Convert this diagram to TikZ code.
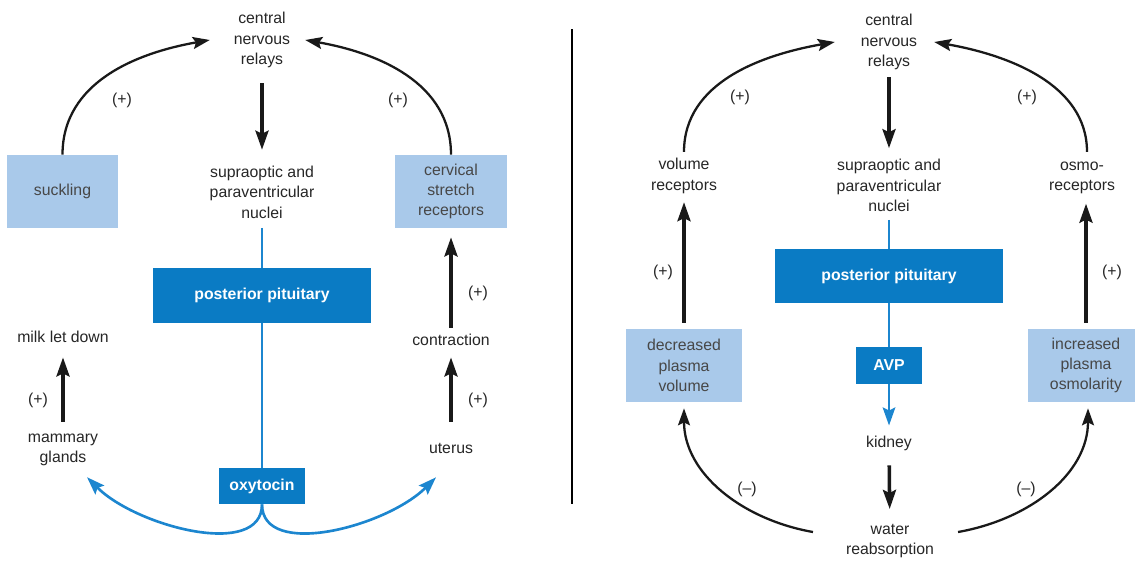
\documentclass[tikz,border=0pt]{standalone}
\usepackage{fontspec}
\setmainfont{Liberation Sans}
\usetikzlibrary{arrows.meta,positioning}
\definecolor{ppblue}{HTML}{0A7BC4}
\definecolor{boxblue}{HTML}{A9C9EA}
\definecolor{lineblue}{HTML}{1C86CF}

\begin{document}
\begin{tikzpicture}[
    x=0.02cm,y=0.02cm,
    font=\fontsize{9}{11.6}\selectfont,
    lbl/.style={align=center,inner sep=1pt,text=black!85},
    sign/.style={inner sep=1pt,text=black!85},
    hormone/.style={rectangle,fill=ppblue,text=white,align=center,
                    inner sep=0pt,font=\fontsize{9}{11.6}\selectfont\bfseries},
    stim/.style={rectangle,fill=boxblue,text=black!72,align=center,
                 inner sep=0pt,minimum height=1.46cm},
    arr/.style={-{Stealth[length=3.4mm,width=2.4mm,inset=0.6mm]},line width=1.3pt,black!90},
    varr/.style={-{Stealth[length=3.8mm,width=2.6mm,inset=0.6mm]},line width=2pt,black!90},
    bline/.style={line width=1.6pt,lineblue},
    barr/.style={-{Stealth[length=3.6mm,width=2.5mm,inset=0.6mm]},line width=1.5pt,lineblue}
  ]
    \useasboundingbox (0,0) rectangle (1135,-561);

    % oxytocin
    \node[lbl] (cnsL) at (262,-40) {central\\nervous\\relays};
    \node[lbl] (sonL) at (262,-192) {supraoptic and\\paraventricular\\nuclei};
    \node[hormone,minimum width=4.38cm,minimum height=1.1cm] (ppL) at (262,-295.5) {posterior pituitary};
    \node[hormone,minimum width=1.72cm,minimum height=0.72cm] (oxyL) at (262,-486) {oxytocin};
    \node[stim,minimum width=2.22cm] (suckL) at (62.5,-191.5) {suckling};
    \node[stim,minimum width=2.24cm] (cervL) at (451,-191.5) {cervical\\stretch\\receptors};
    \node[lbl] (milk) at (63,-337) {milk let down};
    \node[lbl] (mamm) at (63,-450) {mammary\\glands};
    \node[lbl] (contr) at (451,-340) {contraction};
    \node[lbl] (ut) at (451,-448) {uterus};
    \node[sign] (s1) at (122,-100) {(+)};
    \node[sign] (s2) at (398,-100) {(+)};
    \node[sign] (s3) at (38,-400) {(+)};
    \node[sign] (s4) at (478,-293) {(+)};
    \node[sign] (s5) at (478,-400) {(+)};

    \draw[varr,shorten <=2.7mm,shorten >=2.8mm] (cnsL) -- (sonL);
    \draw[bline,shorten <=1.5mm] (sonL) -- (ppL);
    \draw[bline] (ppL) -- (oxyL);
    \draw[barr] (oxyL.south) to[out=-90,in=-45,out distance=1.1cm,in distance=1.4cm] ([shift={(0.48cm,-0.18cm)}]mamm.south);
    \draw[barr] (oxyL.south) to[out=-90,in=-135,out distance=1.1cm,in distance=1.4cm] ([shift={(-0.3cm,-0.44cm)}]ut.south);
    \draw[varr,shorten <=2mm,shorten >=2.5mm] (mamm) -- (milk);
    \draw[varr,shorten <=3.8mm,shorten >=1.9mm] (ut) -- (contr);
    \draw[varr,shorten <=0.9mm,shorten >=1.8mm] (contr) -- (cervL);
    \draw[arr] (suckL.north) to[out=90,in=190] ([xshift=-0.44cm]cnsL.west);
    \draw[arr] (cervL.north) to[out=90,in=-10] ([xshift=0.26cm]cnsL.east);

    \draw[line width=1.2pt] (572,-29) -- (572,-504);

    % AVP
    \node[lbl] (cnsR) at (889,-42) {central\\nervous\\relays};
    \node[lbl] (sonR) at (889,-185.5) {supraoptic and\\paraventricular\\nuclei};
    \node[hormone,minimum width=4.56cm,minimum height=1.08cm] (ppR) at (889,-276) {posterior pituitary};
    \node[hormone,minimum width=1.32cm,minimum height=0.74cm] (avpR) at (889,-365.5) {AVP};
    \node[lbl] (kid) at (889,-443) {kidney};
    \node[lbl] (wat) at (890,-541) {water\\reabsorption};
    \node[lbl] (volR) at (684,-176) {volume\\receptors};
    \node[lbl] (osmoR) at (1082,-178) {osmo-\\receptors};
    \node[stim,minimum width=2.32cm] (decR) at (684,-365.5) {decreased\\plasma\\volume};
    \node[stim,minimum width=2.32cm] (incR) at (1086,-365.5) {increased\\plasma\\osmolarity};
    \node[sign] (s6) at (740,-97) {(+)};
    \node[sign] (s7) at (1027,-97) {(+)};
    \node[sign] (s8) at (663,-272) {(+)};
    \node[sign] (s9) at (1112,-272) {(+)};
    \node[sign] (s10) at (747,-489) {(--)};
    \node[sign] (s11) at (1026,-489) {(--)};

    \draw[varr,shorten <=1.1mm,shorten >=1.8mm] (cnsR) -- (sonR);
    \draw[bline,shorten <=1.2mm] (sonR) -- (ppR);
    \draw[bline] (ppR) -- (avpR);
    \draw[barr,shorten >=1.6mm] (avpR) -- (kid);
    \draw[varr,shorten <=2.6mm,shorten >=2.6mm] (kid) -- (wat);
    \draw[varr,shorten <=1.2mm,shorten >=1.3mm] (decR) -- (volR);
    \draw[varr,shorten <=1.2mm,shorten >=1.5mm] (incR.north) -- (incR.north |- osmoR.south);
    \draw[arr,shorten <=0.9mm] (volR.north) to[out=90,in=190] ([xshift=-0.48cm]cnsR.west);
    \draw[arr,shorten <=1.6mm] ([xshift=0.1cm]osmoR.north) to[out=90,in=-10] ([xshift=0.3cm]cnsR.east);
    \draw[arr,shorten >=1.2mm] ([shift={(-0.62cm,0.18cm)}]wat.west) to[out=170,in=-90] (decR.south);
    \draw[arr,shorten >=1.2mm] ([shift={(0.44cm,0.18cm)}]wat.east) to[out=10,in=-90] ([xshift=0.04cm]incR.south);
  \end{tikzpicture}
\end{document}
